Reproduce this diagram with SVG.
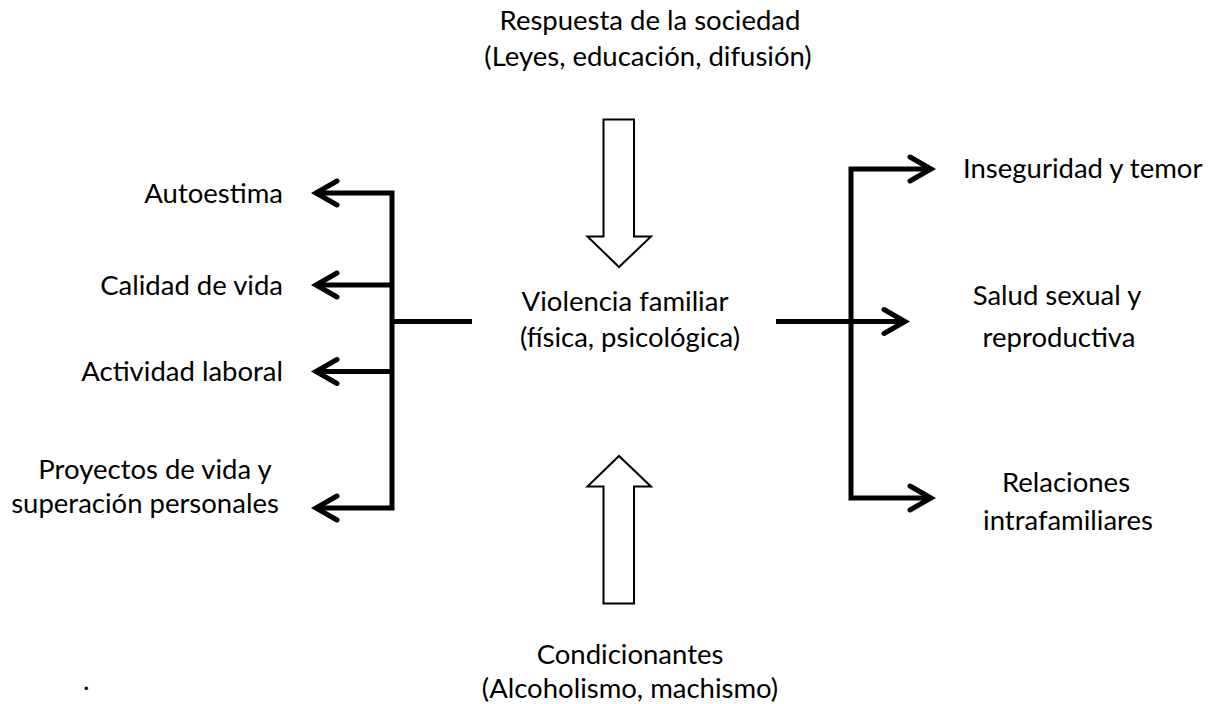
<svg xmlns="http://www.w3.org/2000/svg" width="1212" height="704" viewBox="0 0 1212 704">
<defs>
<style>
text{font-family:Lato,"Open Sans","Liberation Sans",sans-serif;font-size:27.5px;fill:#000}
.c{text-anchor:middle}
.r{text-anchor:end}
.ln{fill:none;stroke:#000;stroke-width:5;stroke-linecap:butt;stroke-linejoin:miter}
.hd{fill:none;stroke:#000;stroke-width:5;stroke-linecap:round;stroke-linejoin:miter}
.big{fill:#fff;stroke:#000;stroke-width:2}
</style>
</defs>
<rect width="1212" height="704" fill="#fff"/>
<g id="top"><text class="c" x="650" y="30">Respuesta de la sociedad</text><text class="c" x="648" y="66">(Leyes, educación, difusión)</text></g>
<g id="center"><text class="c" x="625" y="311">Violencia familiar</text><text class="c" x="630" y="347">(física, psicológica)</text></g>
<g id="bottom"><text class="c" x="630" y="664">Condicionantes</text><text class="c" x="630" y="698">(Alcoholismo, machismo)</text></g>
<g id="autoestima"><text class="r" x="283" y="203">Autoestima</text></g>
<g id="calidad"><text class="r" x="283" y="295">Calidad de vida</text></g>
<g id="actividad"><text class="r" x="283" y="381">Actividad laboral</text></g>
<g id="proyectos"><text class="c" x="155" y="479">Proyectos de vida y</text><text class="c" x="145" y="513">superación personales</text></g>
<g id="inseguridad"><text x="963" y="178">Inseguridad y temor</text></g>
<g id="salud"><text class="c" x="1057" y="305">Salud sexual y</text><text class="c" x="1059" y="347">reproductiva</text></g>
<g id="relaciones"><text class="c" x="1066" y="492">Relaciones</text><text class="c" x="1068" y="530">intrafamiliares</text></g>
<g id="dot"><text x="83" y="690">.</text></g>
<g id="connectors">
<path class="big" d="M603.5,119.5 H634 V236.5 H651 L619,267 L587.5,236.5 H603.5 Z"/>
<path class="big" d="M603.5,603.5 H634 V486.5 H651 L619,456 L587.5,486.5 H603.5 Z"/>
<path class="ln" d="M316,193 H392 V508 H316 M392,285 H316 M392,371.5 H316 M392,321.5 H472"/>
<path class="hd" d="M337,181 L316,193 L337,205 M337,273 L316,285 L337,297 M337,359.5 L316,371.5 L337,383.5 M337,496 L316,508 L337,520"/>
<path class="ln" d="M931,169 H851 V498 H931 M776,321.5 H905"/>
<path class="hd" d="M910,157 L931,169 L910,181 M884,309.5 L905,321.5 L884,333.5 M910,486 L931,498 L910,510"/>
</g>
</svg>
